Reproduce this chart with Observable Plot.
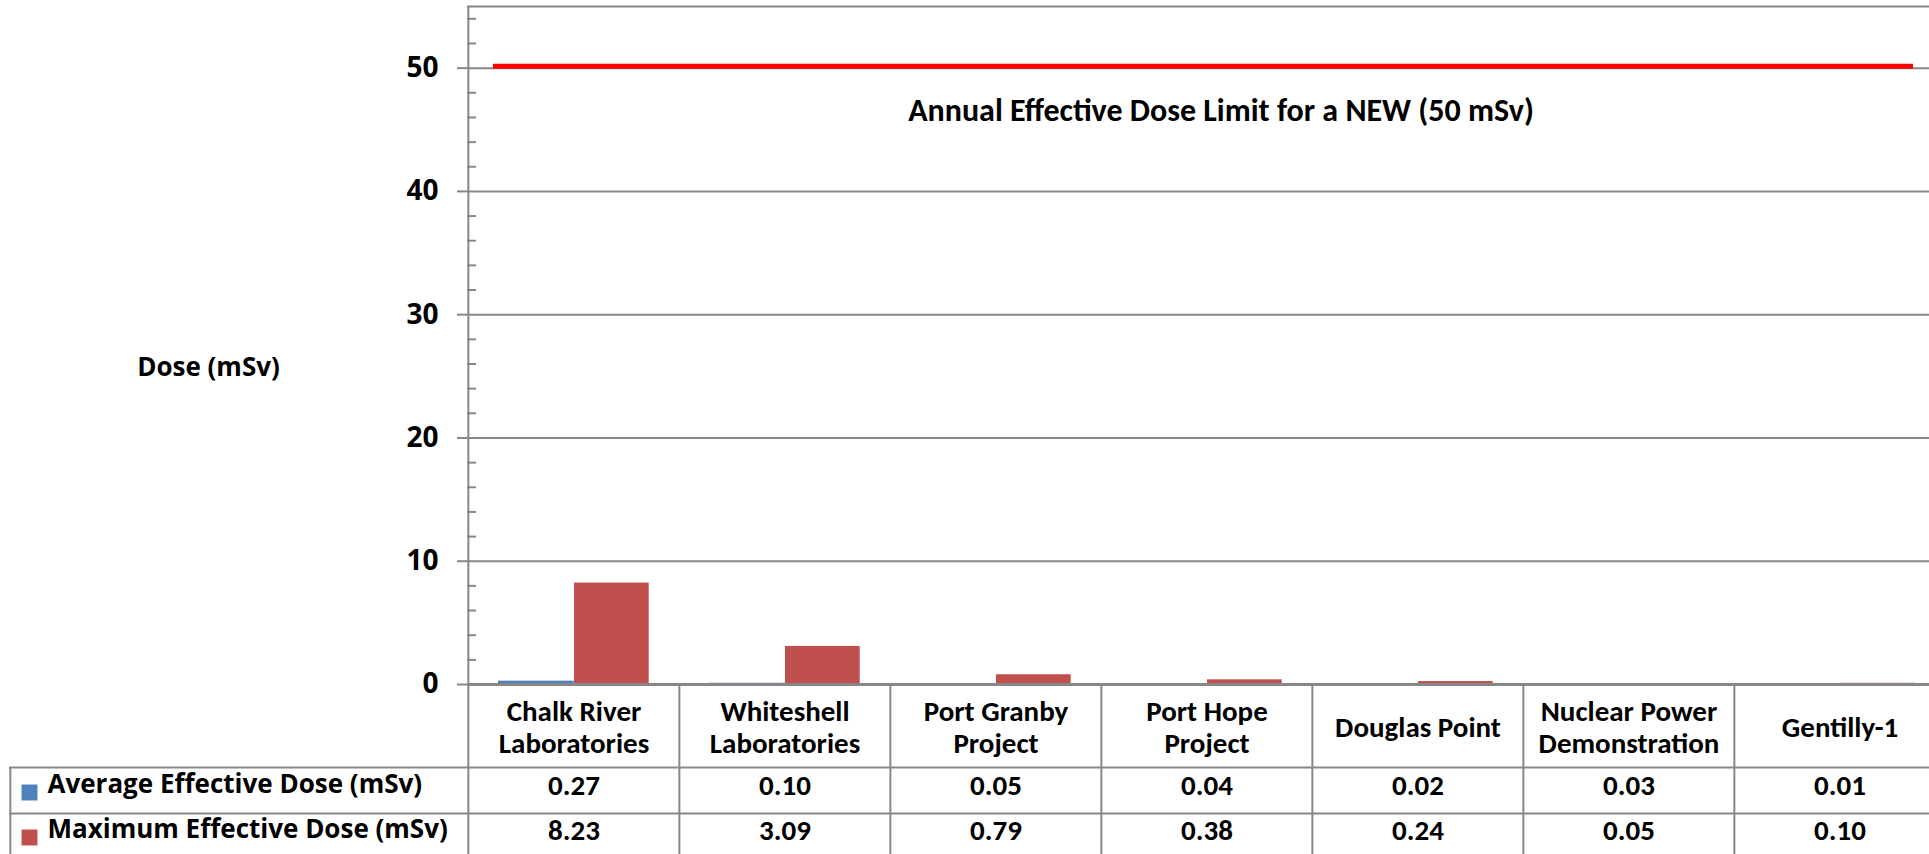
<!DOCTYPE html>
<html>
<head>
<meta charset="utf-8">
<script src="https://cdn.jsdelivr.net/npm/d3@7"></script>
<script src="https://cdn.jsdelivr.net/npm/@observablehq/plot@0.6"></script>
<style>
  html, body { margin: 0; padding: 0; background: #fff; overflow: hidden; }
  #chart svg { display: block; }
</style>
</head>
<body>
<div id="chart"></div>
<script>
// ---- data ----
const categories = ["Chalk River Laboratories", "Whiteshell Laboratories", "Port Granby Project", "Port Hope Project", "Douglas Point", "Nuclear Power Demonstration", "Gentilly-1"];
const categoryLabels = ["Chalk River\nLaboratories", "Whiteshell\nLaboratories", "Port Granby\nProject", "Port Hope\nProject", "Douglas Point", "Nuclear Power\nDemonstration", "Gentilly-1"];
const averageDose = [0.27, 0.10, 0.05, 0.04, 0.02, 0.03, 0.01];
const maximumDose = [8.23, 3.09, 0.79, 0.38, 0.24, 0.05, 0.10];
const seriesNames = ["Average Effective Dose (mSv)", "Maximum Effective Dose (mSv)"];
const seriesColors = ["#4F81BD", "#C0504D"];
const yTicks = [0, 10, 20, 30, 40, 50];
const yMinorTicks = [2, 4, 6, 8, 12, 14, 16, 18, 22, 24, 26, 28, 32, 34, 36, 38, 42, 44, 46, 48, 52, 54];
const yMax = 55;
const doseLimit = 50;
const limitLabel = "Annual Effective Dose Limit for a NEW (50 mSv)";
const yLabel = "Dose (mSv)";

// ---- layout ----
const W = 1929, H = 854;
const mL = 467, mR = -17, mT = 6, mB = 170;
const frameW = W - mL - mR;
const frameH = H - mT - mB;
const bw = frameW / categories.length;
const grid = "#878787";
const axisFont = "'Open Sans', 'DejaVu Sans', sans-serif";
const tableFont = "'Carlito', 'Liberation Sans Narrow', 'Roboto Condensed', 'Open Sans', sans-serif";
const rowH1 = 83, rowH2 = 46;

const rows = categories.map((c, i) => ({category: c, label: categoryLabels[i], avg: averageDose[i], max: maximumDose[i]}));

const chart = Plot.plot({
  width: W, height: H,
  marginLeft: mL, marginRight: mR, marginTop: mT, marginBottom: mB,
  x: {type: "band", domain: categories, padding: 0, axis: null},
  y: {domain: [0, yMax], axis: null},
  style: {background: "white", color: "black", fontFamily: axisFont, overflow: "hidden"},
  marks: [
    // gridlines and top border
    Plot.ruleY(yTicks.filter(d => d > 0), {stroke: grid, strokeWidth: 2}),
    Plot.ruleY([yMax], {stroke: grid, strokeWidth: 2}),
    // minor ticks (inside)
    Plot.ruleY(yMinorTicks, {stroke: grid, strokeWidth: 2, insetRight: frameW - 9}),
    // major ticks and labels
    Plot.axisY({ticks: yTicks, tickSize: 10, tickPadding: 19, stroke: grid, strokeWidth: 2, fontSize: 28, fontWeight: "bold", fontFamily: axisFont}),
    // bars
    Plot.barY(rows, {x: "category", y: "avg", fill: seriesColors[0], insetLeft: 30, insetRight: bw - 106}),
    Plot.barY(rows, {x: "category", y: "max", fill: seriesColors[1], insetLeft: 106, insetRight: bw - 181}),
    // baseline
    Plot.ruleY([0], {stroke: grid, strokeWidth: 3}),
    // vertical axis line (extends through table)
    Plot.ruleX([categories[0]], {x: d => d, dx: -bw / 2, insetBottom: -mB, stroke: grid, strokeWidth: 2}),
    // table: column separators in the table area
    Plot.ruleX(categories.slice(1), {x: d => d, dx: -bw / 2, insetTop: frameH, insetBottom: -mB, stroke: grid, strokeWidth: 2}),
    // table: left border of value rows
    Plot.ruleX([categories[0]], {x: d => d, dx: -bw / 2 - (mL - 9), insetTop: frameH + rowH1, insetBottom: -mB, stroke: grid, strokeWidth: 2}),
    // table: horizontal lines
    Plot.ruleY([0], {dy: rowH1, insetLeft: -(mL - 9), stroke: grid, strokeWidth: 2}),
    Plot.ruleY([0], {dy: rowH1 + rowH2, insetLeft: -(mL - 9), stroke: grid, strokeWidth: 2}),
    // dose limit line
    Plot.ruleY([doseLimit], {stroke: "#FF0000", strokeWidth: 5, dy: -2, insetLeft: 26, insetRight: 33}),
    Plot.text([doseLimit], {y: d => d, text: () => limitLabel, dx: 14, dy: 43, fontSize: 32, fontWeight: "bold", fontFamily: tableFont, fill: "black"}),
    // y label
    Plot.text([yLabel], {frameAnchor: "left", text: d => d, dx: -259, dy: 22, textAnchor: "middle", fontSize: 26, fontWeight: "bold", fontFamily: axisFont, fill: "black"}),
    // category labels (x axis row)
    Plot.text(rows, {x: "category", frameAnchor: "bottom", text: "label", dy: rowH1 / 2 + 1, lineAnchor: "middle", lineHeight: 1.1, fontSize: 29, fontWeight: "bold", fontFamily: tableFont, fill: "black"}),
    // value rows
    Plot.text(rows, {x: "category", frameAnchor: "bottom", text: d => d.avg.toFixed(2), dy: rowH1 + rowH2 / 2 + 4, fontSize: 29, fontWeight: "bold", fontFamily: tableFont, fill: "black"}),
    Plot.text(rows, {x: "category", frameAnchor: "bottom", text: d => d.max.toFixed(2), dy: rowH1 + rowH2 + 26, fontSize: 29, fontWeight: "bold", fontFamily: tableFont, fill: "black"}),
    // row labels with swatches
    Plot.dot([seriesNames[0]], {frameAnchor: "bottom-left", dx: -(mL - 29), dy: rowH1 + rowH2 / 2 + 2, symbol: "square", r: 9, fill: seriesColors[0]}),
    Plot.dot([seriesNames[1]], {frameAnchor: "bottom-left", dx: -(mL - 29), dy: rowH1 + rowH2 + 24, symbol: "square", r: 9, fill: seriesColors[1]}),
    Plot.text([seriesNames[0]], {frameAnchor: "bottom-left", text: d => d, dx: -(mL - 47), dy: rowH1 + rowH2 / 2 + 2, textAnchor: "start", fontSize: 26, fontWeight: "bold", fontFamily: axisFont, fill: "black"}),
    Plot.text([seriesNames[1]], {frameAnchor: "bottom-left", text: d => d, dx: -(mL - 47), dy: rowH1 + rowH2 + 24, textAnchor: "start", fontSize: 26, fontWeight: "bold", fontFamily: axisFont, fill: "black"})
  ]
});
document.getElementById("chart").appendChild(chart);
</script>
</body>
</html>
